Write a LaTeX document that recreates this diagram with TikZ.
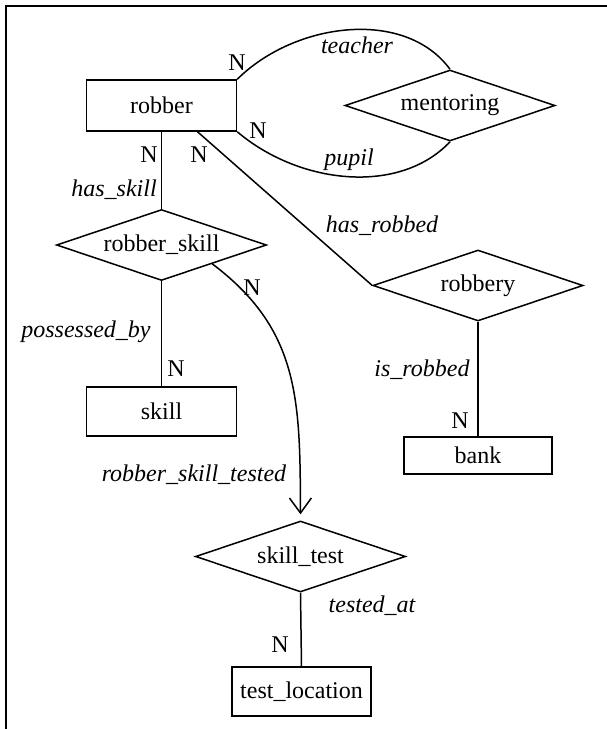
\documentclass[tikz,border=0pt]{standalone}
\usepackage{fontspec}
\setmainfont{Liberation Serif}
\usetikzlibrary{shapes.geometric,arrows.meta,calc}
\begin{document}
\begin{tikzpicture}[x=1pt,y=-1pt, line width=1.5pt,
  every node/.style={font=\fontsize{24}{28}\selectfont},
  entity/.style={draw, rectangle, inner sep=0pt},
  rel/.style={draw, diamond, aspect=2.96, inner sep=0pt, minimum width=210pt, minimum height=71pt},
  role/.style={font=\fontsize{24}{28}\selectfont\itshape, anchor=base, inner sep=0pt},
  card/.style={anchor=base, inner sep=0pt},
  frameline/.style={line width=2pt}]
\useasboundingbox (0,0) rectangle (607,729);
\draw[frameline] (5.5,729) -- (5.5,5.5) -- (607,5.5);

% entities
\node[entity, minimum width=150pt, minimum height=51pt] (robber) at (161.5,105.5) {robber};
\node[entity, minimum width=150pt, minimum height=49pt] (skill) at (161.5,411.5) {skill};
\node[entity, minimum width=148pt, minimum height=37pt] (bank) at (478,455.5) {bank};
\node[entity, minimum width=139pt, minimum height=49pt] (tl) at (301.5,691.5) {test\_location};

% relationships
\node[rel] (mentoring) at (450,105.5) {mentoring};
\node[rel] (rs) at (161.5,245) {robber\_skill};
\node[rel] (robbery) at (478,285.5) {robbery};
\node[rel] (st) at (300.5,556.5) {skill\_test};

% connectors
\draw (robber.north east) .. controls (295,22) and (405,8) .. (mentoring.north);
\draw (robber.south east) .. controls (300,185) and (400,195) .. (mentoring.south);
\draw (robber.south) -- (rs.north);
\draw ([xshift=36pt]robber.south) -- (robbery.west);
\draw (rs.south) -- (skill.north);
\draw (robbery.south) -- (bank.north);
\draw (st.south) -- (tl.north);
\draw[-{Straight Barb[length=15pt,width=22pt]}] ($(rs.south)!0.48!(rs.east)$) .. controls (300,330) and (300,400) .. ([yshift=6pt]st.north);

% role labels
\node[role] (lteacher) at (357,53) {teacher};
\node[role] (lpupil) at (349,165) {pupil};
\node[role] (lhasskill) at (114,196) {has\_skill};
\node[role] (lhasrobbed) at (382,232) {has\_robbed};
\node[role] (lpossessed) at (86,337) {possessed\_by};
\node[role] (lisrobbed) at (422,376) {is\_robbed};
\node[role] (lrst) at (194,481) {robber\_skill\_tested};
\node[role] (ltestedat) at (372,612) {tested\_at};

% cardinalities
\node[card] (n1) at (237,70) {N};
\node[card] (n2) at (258,138) {N};
\node[card] (n3) at (149,162) {N};
\node[card] (n4) at (199,162) {N};
\node[card] (n5) at (176,376) {N};
\node[card] (n6) at (252,295) {N};
\node[card] (n7) at (460,428) {N};
\node[card] (n8) at (280,652) {N};
\end{tikzpicture}
\end{document}
